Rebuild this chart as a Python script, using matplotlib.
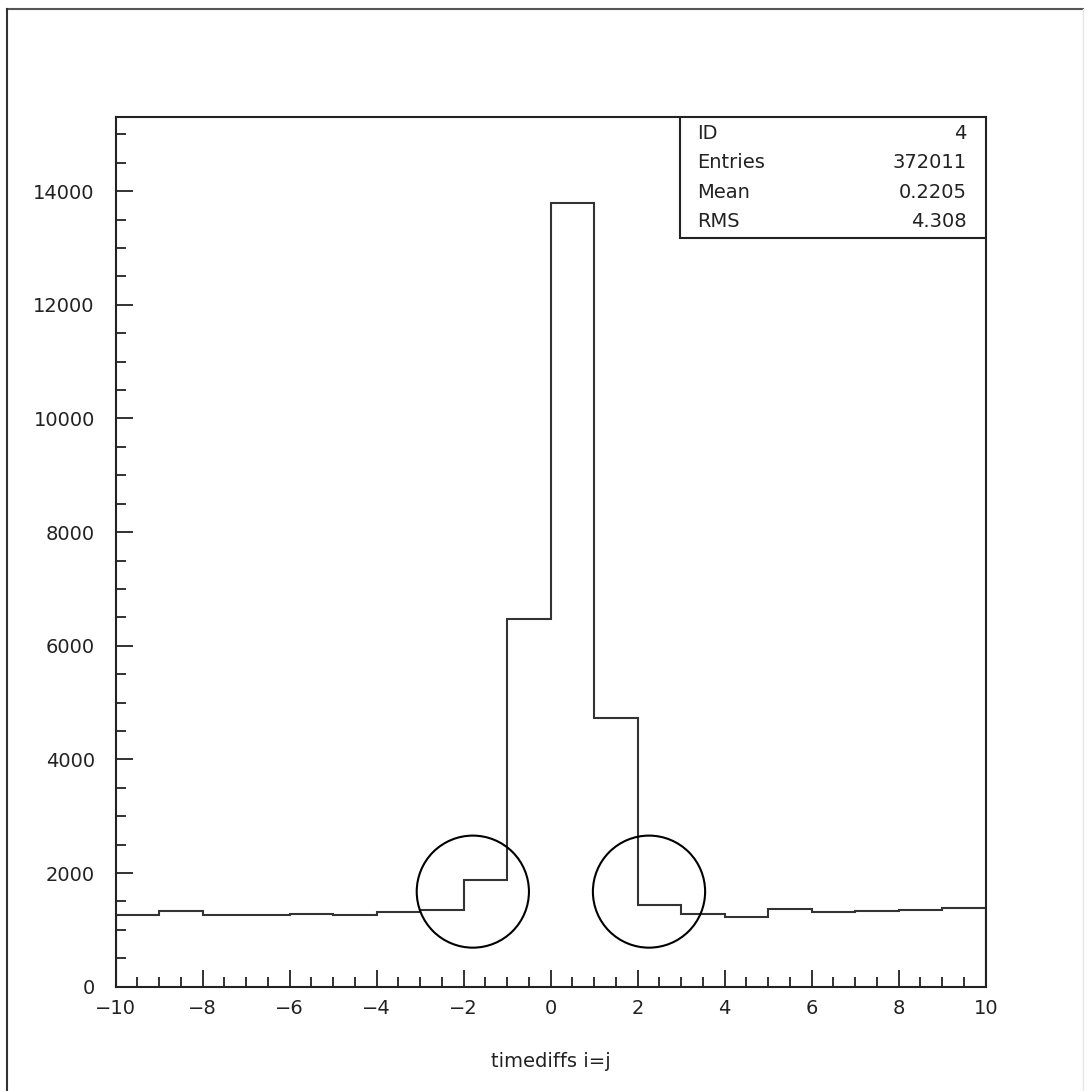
import matplotlib
matplotlib.use('Agg')
import matplotlib.pyplot as plt
from matplotlib.patches import Ellipse, Rectangle
from matplotlib.ticker import MultipleLocator

# histogram contents, one bin per unit from -10 to 10
bin_edges = list(range(-10, 11))
counts = [1254, 1329, 1254, 1254, 1283, 1254, 1312, 1353, 1872, 6475,
          13795, 4726, 1440, 1283, 1230, 1359, 1312, 1329, 1353, 1382]

# statistics box
stat_names = ['ID', 'Entries', 'Mean', 'RMS']
stat_values = ['4', '372011', '0.2205', '4.308']

# hand drawn circles (centre x, centre y, radius in x, radius in y)
circles = [(-1.79, 1673, 1.29, 986), (2.26, 1673, 1.29, 986)]

plt.rcParams['font.family'] = ['DejaVu Sans']
fs = 14
ink = '#222222'

fig = plt.figure(figsize=(10.87, 10.91), dpi=100)
ax = fig.add_axes([0.10644, 0.0956, 0.80037, 0.7969])

ax.stairs(counts, bin_edges, color='#333333', linewidth=1.5)

for cx, cy, rx, ry in circles:
    ax.add_patch(Ellipse((cx, cy), 2 * rx, 2 * ry, fill=False,
                         edgecolor='black', linewidth=1.5))

ax.set_xlim(-10, 10)
ax.set_ylim(0, 15300)
ax.xaxis.set_major_locator(MultipleLocator(2))
ax.xaxis.set_minor_locator(MultipleLocator(0.5))
ax.yaxis.set_major_locator(MultipleLocator(2000))
ax.yaxis.set_minor_locator(MultipleLocator(500))
ax.tick_params(which='both', direction='in', top=False, right=False,
               color=ink, width=1.3, labelsize=fs, labelcolor=ink)
ax.tick_params(which='major', length=12.2)
ax.tick_params(which='minor', length=7.2)
ax.tick_params(axis='y', pad=15)
ax.tick_params(axis='x', pad=9)
for sp in ax.spines.values():
    sp.set_linewidth(1.5)
    sp.set_color(ink)

ax.set_xlabel('timediffs i=j', fontsize=fs, color=ink, labelpad=24)

# stats box in the upper right corner
x0, y0 = 0.6486, 0.8608
ax.add_patch(Rectangle((x0, y0), 1 - x0, 1 - y0, transform=ax.transAxes,
                       fill=True, facecolor='white', edgecolor=ink,
                       linewidth=1.5, zorder=5))
row_y = [0.9816, 0.9475, 0.9135, 0.8796]
for name, val, yy in zip(stat_names, stat_values, row_y):
    ax.text(0.6678, yy, name, transform=ax.transAxes, fontsize=fs,
            color=ink, ha='left', va='center', zorder=6)
    ax.text(0.978, yy, val, transform=ax.transAxes, fontsize=fs,
            color=ink, ha='right', va='center', zorder=6)

# outer frame of the picture
fig.add_artist(plt.Line2D([0.0064, 0.9963], [0.99175, 0.99175],
                          transform=fig.transFigure, color='#555555', linewidth=1.5))
fig.add_artist(plt.Line2D([0.0064, 0.0064], [0.0, 0.99175],
                          transform=fig.transFigure, color='#333333', linewidth=1.5))
fig.add_artist(plt.Line2D([0.9963, 0.9963], [0.0, 0.99175],
                          transform=fig.transFigure, color='#e6e6e6', linewidth=1.0))

fig.savefig('out.png', dpi=100)
